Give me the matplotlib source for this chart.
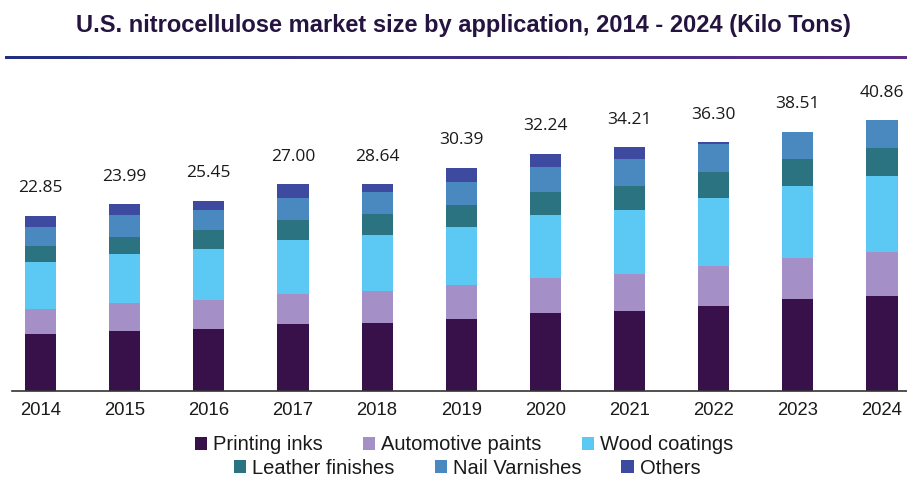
import matplotlib
matplotlib.use("Agg")
import matplotlib.pyplot as plt
import numpy as np
from matplotlib.patches import Patch

years = ["2014", "2015", "2016", "2017", "2018", "2019", "2020", "2021", "2022", "2023", "2024"]
totals_labels = ["22.85", "23.99", "25.45", "27.00", "28.64", "30.39", "32.24", "34.21", "36.30", "38.51", "40.86"]

printing_inks = [8.6, 9.1, 9.4, 10.2, 10.3, 10.9, 11.8, 12.1, 12.9, 13.9, 14.4]
automotive_paints = [3.9, 4.2, 4.4, 4.5, 4.8, 5.2, 5.3, 5.6, 6.1, 6.2, 6.7]
wood_coatings = [7.0, 7.4, 7.7, 8.2, 8.5, 8.8, 9.5, 9.8, 10.3, 10.9, 11.5]
leather_finishes = [2.4, 2.7, 2.9, 3.0, 3.2, 3.3, 3.5, 3.5, 3.9, 4.1, 4.2]
nail_varnishes = [2.9, 3.2, 3.0, 3.3, 3.3, 3.5, 3.8, 4.1, 4.2, 4.2, 4.2]
others = [1.7, 1.7, 1.4, 2.1, 1.2, 2.1, 2.0, 1.8, 0.3, 0.0, 0.0]

series_names = ["Printing inks", "Automotive paints", "Wood coatings",
                "Leather finishes", "Nail Varnishes", "Others"]
series = [printing_inks, automotive_paints, wood_coatings,
          leather_finishes, nail_varnishes, others]
colors = ["#38104a", "#a58fc7", "#5bc9f3", "#2b7380", "#4a88c0", "#3d4aa0"]

W, H = 907, 480
fig = plt.figure(figsize=(W / 100, H / 100), dpi=100)
fig.patch.set_facecolor("white")

ax = fig.add_axes([12 / W, (H - 391) / H, 1 - 12 / W, 291 / H])
x = np.arange(len(years))
bottom = np.zeros(len(years))
for name, vals, c in zip(series_names, series, colors):
    v = np.array(vals)
    ax.bar(x, v, width=0.37, bottom=bottom, color=c, label=name, linewidth=0)
    bottom += v

for xi, top, lab in zip(x, bottom, totals_labels):
    ax.annotate(lab, (xi, top), xytext=(0, 17), textcoords="offset points",
                ha="center", va="baseline", fontsize=12.5, color="#1a1a1a",
                family=["Open Sans", "DejaVu Sans"])

ax.set_xlim(-0.339, 10.297)
ax.set_ylim(0, 291 / 6.6)
ax.set_xticks(x)
ax.set_xticklabels(years, fontsize=13.3, color="#1a1a1a", family=["Liberation Sans", "DejaVu Sans"])
ax.tick_params(axis="x", length=0, pad=8)
ax.set_yticks([])
for s in ["left", "right", "top"]:
    ax.spines[s].set_visible(False)
ax.spines["bottom"].set_color("#333333")
ax.spines["bottom"].set_linewidth(1.2)

# Title
fig.text(463 / W, 1 - 32 / H,
         "U.S. nitrocellulose market size by application, 2014 - 2024 (Kilo Tons)",
         ha="center", va="baseline", fontsize=17, fontweight="bold", color="#24143f",
         family=["Liberation Sans Narrow", "Liberation Sans", "DejaVu Sans"])

# gradient rule under title
lax = fig.add_axes([5 / W, 1 - 59 / H, 902 / W, 3 / H])
grad = np.linspace(0, 1, 256)
c1 = np.array(matplotlib.colors.to_rgb("#22307f"))
c2 = np.array(matplotlib.colors.to_rgb("#5d2c88"))
img = (c1[None, :] * (1 - grad[:, None]) + c2[None, :] * grad[:, None])[None, :, :]
lax.imshow(img, aspect="auto", extent=[0, 1, 0, 1])
lax.axis("off")

# Legends (two rows)
handles = [Patch(facecolor=c, edgecolor="none") for c in colors]
legkw = dict(frameon=False, ncol=3, handlelength=0.6, handleheight=0.6,
             handletextpad=0.3, columnspacing=2.0, borderpad=0, borderaxespad=0,
             prop={"family": ["Liberation Sans", "DejaVu Sans"], "size": 14.5},
             loc="center", bbox_transform=fig.transFigure)
leg1 = fig.legend(handles[:3], series_names[:3], bbox_to_anchor=(464 / W, 1 - 445 / H), **legkw)
leg2 = fig.legend(handles[3:], series_names[3:], bbox_to_anchor=(467 / W, 1 - 468 / H), **legkw)
for leg in (leg1, leg2):
    for t in leg.get_texts():
        t.set_color("#1a1a1a")

fig.savefig("out.png", dpi=100)
